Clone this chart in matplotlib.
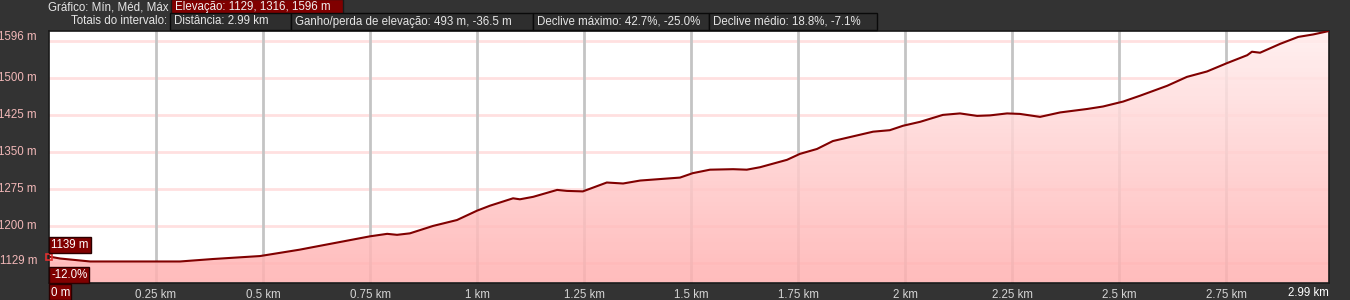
import matplotlib
matplotlib.use('Agg')
import matplotlib.pyplot as plt
import numpy as np
from matplotlib.patches import Rectangle
from matplotlib.colors import LinearSegmentedColormap

# ---------------- data ----------------
dist_km = [0.000, 0.026, 0.096, 0.306, 0.383, 0.493, 0.586, 0.610, 0.750, 0.790,
           0.813, 0.843, 0.897, 0.953, 1.000, 1.030, 1.084, 1.100, 1.131, 1.187,
           1.210, 1.247, 1.303, 1.341, 1.381, 1.474, 1.504, 1.544, 1.598, 1.630,
           1.661, 1.724, 1.754, 1.794, 1.831, 1.925, 1.964, 1.995, 2.035, 2.088,
           2.128, 2.168, 2.198, 2.238, 2.268, 2.315, 2.362, 2.425, 2.462, 2.509,
           2.549, 2.612, 2.658, 2.705, 2.752, 2.799, 2.810, 2.829, 2.876, 2.918,
           2.953, 2.990]
elev_m = [1139, 1135, 1129, 1129, 1134, 1140, 1153, 1157, 1180, 1185,
          1183, 1186, 1201, 1213, 1232, 1242, 1257, 1255, 1260, 1274,
          1272, 1271, 1289, 1287, 1293, 1299, 1308, 1315, 1316, 1315,
          1320, 1335, 1347, 1357, 1373, 1392, 1395, 1404, 1412, 1426,
          1429, 1424, 1425, 1429, 1428, 1422, 1431, 1438, 1443, 1453,
          1465, 1485, 1503, 1514, 1531, 1547, 1554, 1552, 1570, 1584,
          1589, 1596]

x_ticks = [0.25, 0.5, 0.75, 1.0, 1.25, 1.5, 1.75, 2.0, 2.25, 2.5, 2.75]
x_tick_labels = ['0.25 km', '0.5 km', '0.75 km', '1 km', '1.25 km', '1.5 km',
                 '1.75 km', '2 km', '2.25 km', '2.5 km', '2.75 km']
y_grid = [1125, 1200, 1275, 1350, 1425, 1500, 1575]
y_label_vals = [1129, 1200, 1275, 1350, 1425, 1500]
y_labels = ['1129 m', '1200 m', '1275 m', '1350 m', '1425 m', '1500 m']
y_top_label = '1596 m'
start_grade = '-12.0%'
x_end_label = '2.99 km'

header1_left = 'Gráfico: Mín, Méd, Máx'
header1_box = 'Elevação: 1129, 1316, 1596 m'
header2_left = 'Totais do intervalo:'
header2_boxes = ['Distância: 2.99 km',
                 'Ganho/perda de elevação: 493 m, -36.5 m',
                 'Declive máximo: 42.7%, -25.0%',
                 'Declive médio: 18.8%, -7.1%']

# ---------------- layout ----------------
W, H = 1350, 300
plt.rcParams['font.family'] = ['Liberation Sans', 'DejaVu Sans']
FS = 8.3
fig = plt.figure(figsize=(W / 100, H / 100), dpi=100, facecolor='#333333')

ax_l, ax_r, ax_t, ax_b = 49, 1329, 31, 282.7
ax = fig.add_axes([ax_l / W, (H - ax_b) / H, (ax_r - ax_l) / W, (ax_b - ax_t) / H])
ax.set_facecolor('white')
ymin, ymax = 1086, 1596
xmax = dist_km[-1]

# grid
for v in y_grid:
    ax.axhline(v, color='#ffe0e0', lw=2, zorder=1)
for v in x_ticks:
    ax.axvline(v, color='#c4c4c4', lw=2, zorder=1)

# gradient fill
grad = np.linspace(0, 1, 256).reshape(-1, 1)
cmap = LinearSegmentedColormap.from_list('g', ['#ffb0b0', '#ffeeee'])
im = ax.imshow(grad, aspect='auto', cmap=cmap, extent=[0, xmax, ymin, ymax],
               origin='lower', alpha=0.85, zorder=2, interpolation='bilinear')
poly = ax.fill_between(dist_km, elev_m, ymin, facecolor='none', edgecolor='none')
im.set_clip_path(poly.get_paths()[0], transform=ax.transData)

ax.plot(dist_km, elev_m, color='#800000', lw=1.5, zorder=4, solid_joinstyle='round')
ax.plot(dist_km[0], elev_m[0], marker='s', mfc='none', mec='#e03030', ms=5,
        mew=1.2, clip_on=False, zorder=5)

ax.set_xlim(0, xmax)
ax.set_ylim(ymin, ymax)
ax.set_xticks(x_ticks)
ax.set_xticklabels(x_tick_labels, fontsize=FS, color='#d4d4d4')
ax.tick_params(axis='x', length=0, pad=4.5)
ax.set_yticks([])
for s in ax.spines.values():
    s.set_color('#1a1a1a')
    s.set_linewidth(1.2)

# y labels
ytr = ax.get_yaxis_transform()
ylab_color = '#f2b8b8'
for v, t in zip(y_label_vals, y_labels):
    ax.text(-12 / (ax_r - ax_l), v, t, transform=ytr, ha='right', va='center',
            fontsize=FS, color=ylab_color)
ax.text(-12 / (ax_r - ax_l), 1.0, y_top_label, transform=ax.transAxes, ha='right',
        va='top', fontsize=FS, color=ylab_color)


def fig_box(x0, y0, x1, y1, fc, ec):
    fig.add_artist(Rectangle((x0 / W, 1 - y1 / H), (x1 - x0) / W, (y1 - y0) / H,
                             transform=fig.transFigure, fc=fc, ec=ec, lw=1))


def fig_text(x, y, s, ha='left', color='#e6e6e6'):
    fig.text(x / W, 1 - y / H, s, ha=ha, va='center', fontsize=FS, color=color)


DR = '#800000'
# start labels
fig_box(49, 237, 91, 253, DR, '#2a0000')
fig_text(51, 245, f'{elev_m[0]} m', color='white')
fig_box(49, 267, 89, 283, DR, '#2a0000')
fig_text(51, 275, start_grade, color='white')
fig_box(49, 284, 71, 300, DR, '#2a0000')
fig_text(51, 293, '0 m', color='white')
fig_text(1329, 293, x_end_label, ha='right', color='white')

# header
fig_text(169, 7, header1_left, ha='right')
fig_box(171, -1, 343, 13.5, DR, '#1a1a1a')
fig_text(175, 7, header1_box, color='#f0f0f0')
fig_text(167, 21.5, header2_left, ha='right')
edges = [170, 291, 533, 709, 877]
for i, t in enumerate(header2_boxes):
    fig_box(edges[i], 13.5, edges[i + 1], 29.5, '#2e2e2e', '#0a0a0a')
    fig_text(edges[i] + 4, 21.5, t)

fig.savefig('out.png', dpi=100, facecolor=fig.get_facecolor())
